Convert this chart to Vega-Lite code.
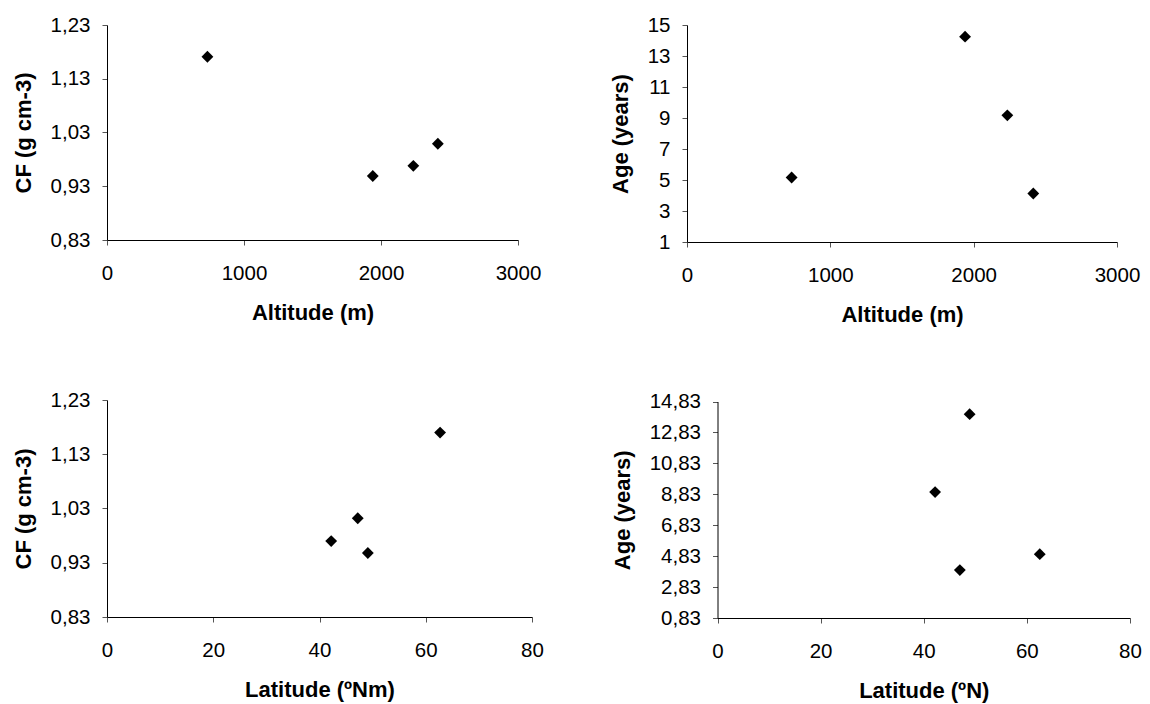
{
  "$schema": "https://vega.github.io/schema/vega-lite/v6.json",
  "background": "white",
  "padding": {"left": 12, "top": 15, "right": 2, "bottom": 2},
  "config": {
    "view": {"stroke": null},
    "font": "Liberation Sans",
    "axis": {
      "labelFont": "Liberation Sans", "labelFontSize": 20.5, "labelColor": "#000",
      "titleFont": "Liberation Sans", "titleFontSize": 22, "titleFontWeight": "bold", "titleColor": "#000",
      "domainColor": "#000", "domainWidth": 1, "tickColor": "#555", "tickSize": 5, "grid": false,
      "labelFlush": false
    },
    "axisX": {"labelPadding": 18, "titlePadding": 19},
    "axisY": {"labelPadding": 12, "titlePadding": 15}
  },
  "datasets": {
    "altCF": [
      {"altitude": 733, "cf": 1.171},
      {"altitude": 1940, "cf": 0.949},
      {"altitude": 2236, "cf": 0.968},
      {"altitude": 2415, "cf": 1.009}
    ],
    "altAge": [
      {"altitude": 730, "age": 5.16},
      {"altitude": 1940, "age": 14.25},
      {"altitude": 2235, "age": 9.17},
      {"altitude": 2416, "age": 4.13}
    ],
    "latCF": [
      {"latitude": 42.2, "cf": 0.970},
      {"latitude": 47.2, "cf": 1.012},
      {"latitude": 49.1, "cf": 0.948},
      {"latitude": 62.7, "cf": 1.170}
    ],
    "latAge": [
      {"latitude": 42.2, "age": 8.97},
      {"latitude": 47.0, "age": 3.93},
      {"latitude": 48.9, "age": 14.01},
      {"latitude": 62.5, "age": 4.96}
    ]
  },
  "columns": 2,
  "bounds": "flush",
  "spacing": {"row": 158, "column": 155},
  "concat": [
    {
      "width": 411, "height": 215,
      "data": {"name": "altCF"},
      "mark": {"type": "point", "shape": "diamond", "filled": true, "color": "#000", "size": 140, "opacity": 1},
      "encoding": {
        "x": {"field": "altitude", "type": "quantitative", "scale": {"domain": [0, 3000], "nice": false, "zero": false},
              "axis": {"title": "Altitude (m)", "values": [0, 1000, 2000, 3000], "format": "d"}},
        "y": {"field": "cf", "type": "quantitative", "scale": {"domain": [0.83, 1.23], "nice": false, "zero": false},
              "axis": {"title": "CF (g cm-3)", "values": [0.83, 0.93, 1.03, 1.13, 1.23], "labelExpr": "replace(format(datum.value, '.2f'), '.', ',')"}}
      }
    },
    {
      "width": 430, "height": 217,
      "data": {"name": "altAge"},
      "mark": {"type": "point", "shape": "diamond", "filled": true, "color": "#000", "size": 140, "opacity": 1},
      "encoding": {
        "x": {"field": "altitude", "type": "quantitative", "scale": {"domain": [0, 3000], "nice": false, "zero": false},
              "axis": {"title": "Altitude (m)", "values": [0, 1000, 2000, 3000], "format": "d"}},
        "y": {"field": "age", "type": "quantitative", "scale": {"domain": [1, 15], "nice": false, "zero": false},
              "axis": {"title": "Age (years)", "values": [1, 3, 5, 7, 9, 11, 13, 15], "format": "d"}}
      }
    },
    {
      "width": 425, "height": 217,
      "data": {"name": "latCF"},
      "mark": {"type": "point", "shape": "diamond", "filled": true, "color": "#000", "size": 140, "opacity": 1},
      "encoding": {
        "x": {"field": "latitude", "type": "quantitative", "scale": {"domain": [0, 80], "nice": false, "zero": false},
              "axis": {"title": "Latitude (ºNm)", "values": [0, 20, 40, 60, 80], "format": "d"}},
        "y": {"field": "cf", "type": "quantitative", "scale": {"domain": [0.83, 1.23], "nice": false, "zero": false},
              "axis": {"title": "CF (g cm-3)", "values": [0.83, 0.93, 1.03, 1.13, 1.23], "labelExpr": "replace(format(datum.value, '.2f'), '.', ',')"}}
      }
    },
    {
      "width": 443, "height": 218,
      "data": {"name": "latAge"},
      "mark": {"type": "point", "shape": "diamond", "filled": true, "color": "#000", "size": 140, "opacity": 1},
      "encoding": {
        "x": {"field": "latitude", "type": "quantitative", "scale": {"domain": [0, 80], "nice": false, "zero": false, "range": [30.5, 443]},
              "axis": {"title": "Latitude (ºN)", "values": [0, 20, 40, 60, 80], "format": "d"}},
        "y": {"field": "age", "type": "quantitative", "scale": {"domain": [0.83, 14.83], "nice": false, "zero": false, "range": [218, 1.5]},
              "axis": {"title": "Age (years)", "offset": -30.5, "values": [0.83, 2.83, 4.83, 6.83, 8.83, 10.83, 12.83, 14.83], "labelExpr": "replace(format(datum.value, '.2f'), '.', ',')"}}
      }
    }
  ]
}
